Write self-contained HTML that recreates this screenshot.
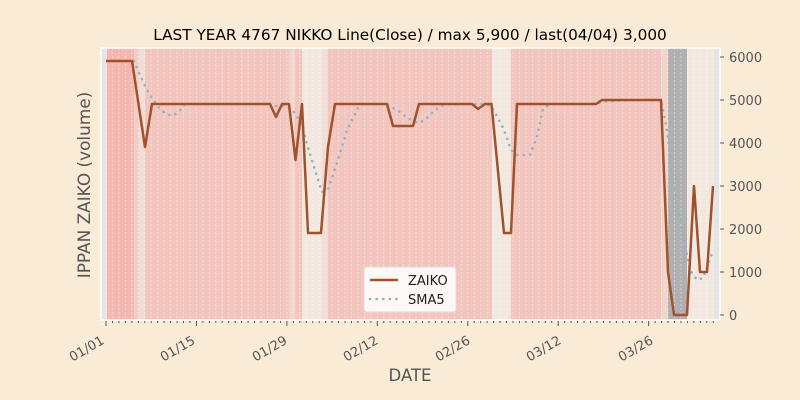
<!DOCTYPE html>
<html><head><meta charset="utf-8"><style>
html,body{margin:0;padding:0;background:#faebd7;}
svg{display:block;font-family:"DejaVu Sans","Liberation Sans",sans-serif;}
</style></head><body>
<svg width="800" height="400" viewBox="0 0 800 400" xmlns="http://www.w3.org/2000/svg">
<rect width="800" height="400" fill="#faebd7"/>
<rect x="101" y="48" width="619" height="272" fill="#f2c6be"/>
<rect x="101" y="48" width="6" height="272" fill="#e5e5e5"/>
<rect x="107" y="48" width="27" height="272" fill="#f4b8b0"/>
<rect x="134" y="48" width="5" height="272" fill="#f2cdc5"/>
<rect x="139" y="48" width="6" height="272" fill="#f2dcd6"/>
<rect x="289" y="48" width="6" height="272" fill="#f2d5cd"/>
<rect x="302" y="48" width="20" height="272" fill="#f3e8e0"/>
<rect x="322" y="48" width="6" height="272" fill="#f2dcd6"/>
<rect x="492" y="48" width="19" height="272" fill="#f3e8e0"/>
<rect x="661" y="48" width="7" height="272" fill="#f2d5cd"/>
<rect x="668" y="48" width="19" height="272" fill="#b0b0b0"/>
<rect x="687" y="48" width="27" height="272" fill="#f3e8e0"/>
<rect x="714" y="48" width="6" height="272" fill="#e5e5e5"/>
<g stroke="#ffffff" stroke-opacity="0.5" stroke-width="0.8" stroke-dasharray="2,2" id="grid"></g>
<rect x="101" y="48" width="619" height="272" fill="none" stroke="#fff" stroke-width="1.5"/>
<polyline fill="none" stroke="#8fb4c8" stroke-width="2.6" stroke-dasharray="0.1,6.5" stroke-linecap="round"
points="134,61 140,75 146,88 152,98 158,107 165,113 171,116 178,113 185,104 200,104 270,104 276,106 283,106 289,108 295,113 302,125 308,148 315,170 322,192 328,189 335,169 341,150 347,130 354,116 360,104 387,104 393,108 400,112 406,117 413,121 419,123 426,119 432,113 439,107 445,104 485,104 491,106 497,116 504,130 511,150 517,155 530,155 537,137 543,109 550,104 596,104 602,102 628,100 661,100 667,130 673,183 680,220 687,255 690,270 697,280 703,278 713,251"/>
<polyline fill="none" stroke="#a0522d" stroke-width="2.5" stroke-linejoin="round"
points="106,61 132,61 145,147 152,104 270,104 276,117 282,104 289,104 295.5,160 302,104 308,233 321,233 328,147 335,104 387,104 393,126 413,126 419,104 472,104 478,109 485,104 491.5,104 504,233 511,233 517,104 596,104 602,100 661,100 668,272 674,315 687,315 694,186 700,272 707,272 713,186"/>
<g stroke="#555" stroke-width="1">
<line x1="720" y1="57" x2="724" y2="57"/><line x1="720" y1="100" x2="724" y2="100"/><line x1="720" y1="143" x2="724" y2="143"/><line x1="720" y1="186" x2="724" y2="186"/><line x1="720" y1="229" x2="724" y2="229"/><line x1="720" y1="272" x2="724" y2="272"/><line x1="720" y1="315" x2="724" y2="315"/>
</g>
<g fill="#555" font-size="13">
<text x="729" y="62">6000</text><text x="729" y="105">5000</text><text x="729" y="148">4000</text><text x="729" y="191">3000</text><text x="729" y="234">2000</text><text x="729" y="277">1000</text><text x="729" y="320">0</text>
</g>
<g id="xt" stroke="#555" stroke-width="1"></g>
<g fill="#555" font-size="13" text-anchor="end">
<text transform="translate(105,343) rotate(-30)">01/01</text>
<text transform="translate(196,343) rotate(-30)">01/15</text>
<text transform="translate(288,343) rotate(-30)">01/29</text>
<text transform="translate(379,343) rotate(-30)">02/12</text>
<text transform="translate(471,343) rotate(-30)">02/26</text>
<text transform="translate(562,343) rotate(-30)">03/12</text>
<text transform="translate(654,343) rotate(-30)">03/26</text>
</g>
<text x="410" y="381" fill="#555" font-size="16.5" text-anchor="middle">DATE</text>
<text transform="translate(90,185) rotate(-90)" fill="#555" font-size="16.9" text-anchor="middle">IPPAN ZAIKO (volume)</text>
<text x="410" y="40" fill="#000" font-size="15.3" text-anchor="middle">LAST YEAR 4767 NIKKO Line(Close) / max 5,900 / last(04/04) 3,000</text>
<rect x="364" y="267" width="92" height="45" rx="3" fill="#fff" fill-opacity="0.85" stroke="#ddd"/>
<line x1="370" y1="280" x2="398" y2="280" stroke="#a0522d" stroke-width="2.5"/>
<text x="408" y="285" font-size="13" fill="#222">ZAIKO</text>
<line x1="370" y1="299" x2="398" y2="299" stroke="#8fb4c8" stroke-width="2.6" stroke-dasharray="0.1,6.5" stroke-linecap="round"/>
<text x="408" y="304" font-size="13" fill="#222">SMA5</text>
<script>
var g=document.getElementById('grid'),t=document.getElementById('xt'),ns='http://www.w3.org/2000/svg';
for(var d=0;d<95;d++){var x=106+6.46*d;
var l=document.createElementNS(ns,'line');l.setAttribute('x1',x);l.setAttribute('x2',x);l.setAttribute('y1',48);l.setAttribute('y2',320);g.appendChild(l);
var k=document.createElementNS(ns,'line');k.setAttribute('x1',x);k.setAttribute('x2',x);k.setAttribute('y1',321);k.setAttribute('y2',d%14==0?326:323);t.appendChild(k);}
</script>
</svg>
</body></html>
